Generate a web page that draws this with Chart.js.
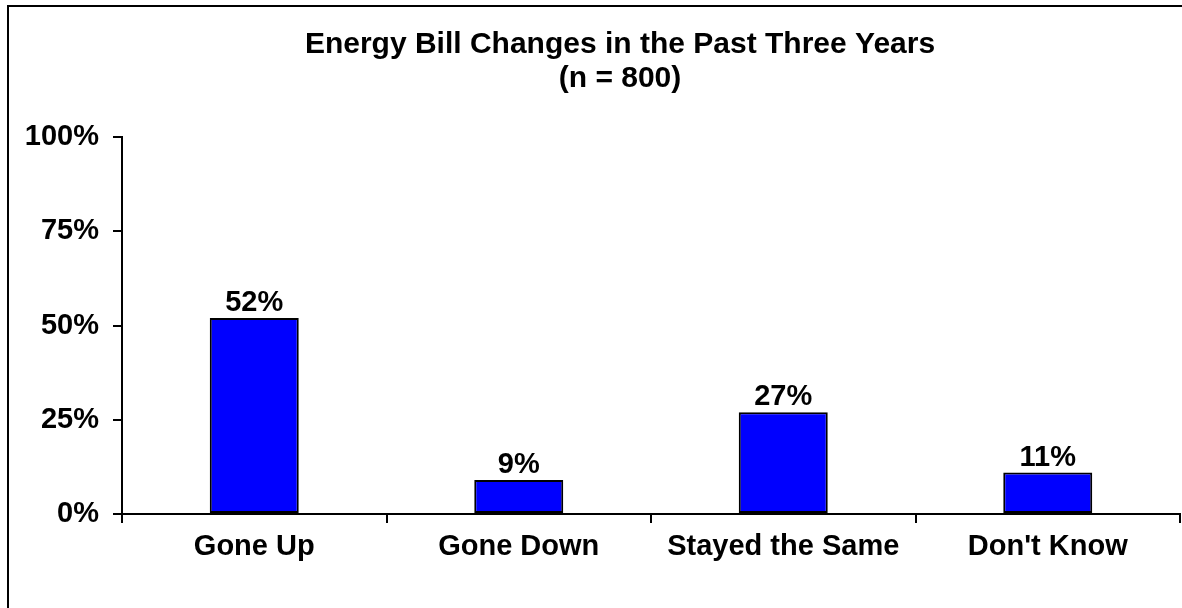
<!DOCTYPE html>
<html>
<head>
<meta charset="utf-8">
<script src="https://cdn.jsdelivr.net/npm/chart.js@4.4.1/dist/chart.umd.min.js"></script>
<style>
  html, body { margin: 0; padding: 0; background: #fff; overflow: hidden; }
  #wrap { position: relative; width: 1182px; height: 608px; overflow: hidden; }
  #billChart { position: absolute; left: 0; top: 0; }
  /* rėmelis: dešinė ir apatinė kraštinės už kadro ribų */
  #frame {
    position: absolute; left: 7px; top: 5px; width: 1226px; height: 630px;
    border: 2px solid #000; box-sizing: border-box; pointer-events: none;
  }
</style>
</head>
<body>
<div id="wrap">
  <canvas id="billChart" width="1240" height="640"></canvas>
  <div id="frame"></div>
</div>
<script>
// Duomenys
const categories = ['Gone Up', 'Gone Down', 'Stayed the Same', "Don't Know"];
const shares = [52, 9, 27, 11];
const yTicks = [0, 25, 50, 75, 100];
const titleLines = ['Energy Bill Changes in the Past Three Years', '(n = 800)'];

const FONT = "'Liberation Sans', Arial, sans-serif";

// reikšmės virš stulpelių
const valueLabels = {
    id: 'valueLabels',
    afterDatasetsDraw(chart) {
        const ctx = chart.ctx;
        const meta = chart.getDatasetMeta(0);
        ctx.save();
        ctx.font = 'bold 29px ' + FONT;
        ctx.fillStyle = '#000';
        ctx.textAlign = 'center';
        ctx.textBaseline = 'alphabetic';
        meta.data.forEach((bar, i) => {
            ctx.fillText(shares[i] + '%', bar.x, bar.y - 7);
        });
        ctx.restore();
    }
};

const ctx = document.getElementById('billChart').getContext('2d');
const chart = new Chart(ctx, {
    type: 'bar',
    data: {
        labels: categories,
        datasets: [{
            data: shares,
            backgroundColor: '#0000ff',
            borderColor: '#000',
            borderWidth: 2,
            borderSkipped: false,
            categoryPercentage: 1,
            barPercentage: 0.3365
        }]
    },
    options: {
        responsive: false,
        animation: false,
        layout: { padding: 0 },
        plugins: {
            legend: { display: false },
            tooltip: { enabled: false },
            title: {
                display: true,
                text: titleLines,
                color: '#000',
                font: { family: FONT, size: 30, weight: 'bold', lineHeight: 1.15 },
                padding: { top: 27, bottom: 41 }
            }
        },
        scales: {
            x: {
                offset: true,
                grid: {
                    offset: true,
                    drawOnChartArea: false,
                    drawTicks: true,
                    tickLength: 9,
                    color: '#000',
                    lineWidth: 2
                },
                border: { display: true, color: '#000', width: 2 },
                ticks: {
                    color: '#000',
                    padding: 7,
                    font: { family: FONT, size: 29, weight: 'bold' }
                },
                afterFit(scale) { scale.height = 126; }
            },
            y: {
                min: 0,
                max: 100,
                afterBuildTicks(scale) {
                    scale.ticks = yTicks.map(v => ({ value: v }));
                },
                grid: {
                    drawOnChartArea: false,
                    drawTicks: true,
                    tickLength: 9,
                    color: '#000',
                    lineWidth: 2
                },
                border: { display: true, color: '#000', width: 2 },
                ticks: {
                    color: '#000',
                    padding: 14,
                    callback: v => v + '%',
                    font: { family: FONT, size: 29, weight: 'bold' }
                },
                afterFit(scale) { scale.width = 122; }
            },
            // tuščia dešinė juosta, kad pavadinimas liktų centre
            spacer: {
                type: 'linear',
                position: 'right',
                display: true,
                grid: { display: false },
                border: { display: false },
                ticks: { display: false },
                afterFit(scale) { scale.width = 60; }
            }
        }
    },
    plugins: [valueLabels]
});
</script>
</body>
</html>
